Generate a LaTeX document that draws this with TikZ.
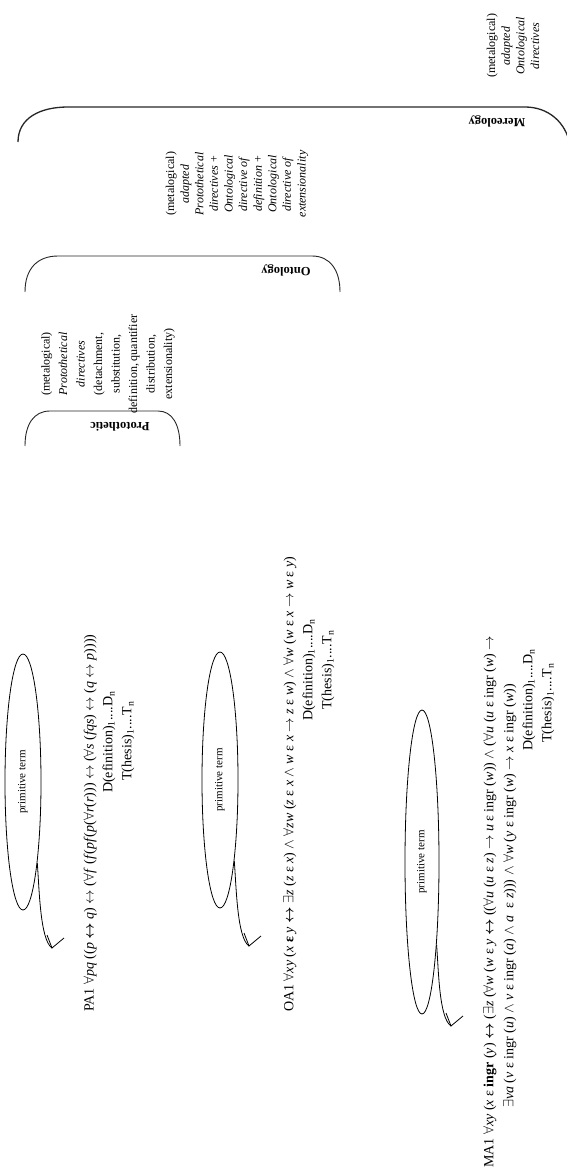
\documentclass[tikz,border=0pt]{standalone}
\usepackage{amsmath}
\usepackage{fontspec}
\setmainfont{Liberation Serif}
\usetikzlibrary{shapes.geometric,calc}
\newcommand{\myA}{\ensuremath{\forall}}
\newcommand{\myE}{\ensuremath{\exists}}
\newcommand{\myI}{\ensuremath{\leftrightarrow}}
\newcommand{\myBI}{\ensuremath{\boldsymbol{\leftrightarrow}}}
\newcommand{\myR}{\ensuremath{\rightarrow}}
\newcommand{\myW}{\ensuremath{\wedge}}
\newcommand{\vv}[1]{\textit{#1}}
\tikzset{
  formula/.style={rotate=90, inner sep=0pt, font=\fontsize{14}{19}\selectfont},
  dtline/.style={rotate=90, inner sep=0pt, font=\fontsize{14}{19}\selectfont},
  desc/.style={rotate=90, inner sep=0pt, align=center, font=\fontsize{12}{17.5}\selectfont},
  descb/.style={rotate=90, inner sep=0pt, align=center, font=\fontsize{12}{14.6}\selectfont},
  brlabel/.style={rotate=180, inner sep=0pt, font=\fontsize{12.5}{14}\selectfont\bfseries},
  prim/.style={rotate=90, inner sep=0pt, font=\fontsize{11}{13}\selectfont},
  bracket/.style={draw=black!85, line width=0.9pt},
  ell/.style={draw, ellipse, line width=0.8pt, inner sep=0pt},
  tail/.style={draw, line width=0.8pt},
}
\begin{document}
\begin{tikzpicture}[x=1pt,y=-1pt]
\useasboundingbox (0,0) rectangle (566,1175);

% brackets
\draw[bracket, line width=1.3pt] (18,142) .. controls (18,118) and (40,107) .. (68,107) -- (525,107) .. controls (548,107) and (566,122) .. (570,145);
\node[brlabel] (mer) at (497,121) {Mereology};
\draw[bracket] (25,292) .. controls (25,268) and (38,256) .. (58,256) -- (312,256) .. controls (330,256) and (340,270) .. (340,292);
\node[brlabel] (ont) at (286,270) {Ontology};
\draw[bracket] (25,446) .. controls (25,424) and (34,411) .. (50,411) -- (158,411) .. controls (172,411) and (180,424) .. (180,446);
\node[brlabel] (pro) at (120,427) {Protothetic};

% description blocks
\node[desc] (d1) at (108,364) {(metalogical)\\ \textit{Protothetical}\\ \textit{directives}\\ (detachment,\\ substitution,\\ definition, quantifier\\ distribution,\\ extensionality)};
\node[descb] (d2) at (237,184) {(metalogical)\\ \textit{adapted}\\ \textit{Protothetical}\\ \textit{directives} +\\ \textit{Ontological}\\ \textit{directive of}\\ \textit{definition} +\\ \textit{Ontological}\\ \textit{directive of}\\ \textit{extensionality}};
\node[descb] (d3) at (513,46) {(metalogical)\\ \textit{adapted}\\ \textit{Ontological}\\ \textit{directives}};

% ellipses
\node[ell, minimum width=36pt, minimum height=256pt] (e1) at (23,782) {};
\node[prim] (p1) at (e1.center) {primitive term};
\node[ell, minimum width=36pt, minimum height=256pt] (e2) at (220,780) {};
\node[prim] (p2) at (e2.center) {primitive term};
\node[ell, minimum width=34pt, minimum height=304pt] (e3) at (422,862) {};
\node[prim] (p3) at (e3.center) {primitive term};

% tails
\foreach \e/\tx/\ty in {e1/52/948, e2/249/946, e3/451/1026} {
  \coordinate (\e tip) at (\tx,\ty);
  \draw[tail] (\e.-80) .. controls ($(\e.-80)+(2,25)$) and ($(\e tip)+(-12,-8)$) .. (\e tip);
  \draw[tail] ($(\e tip)+(-5,-13)$) -- (\e tip) -- ($(\e tip)+(12,-10)$);
}

% formulas
\node[formula, anchor=west] (pa1) at (90,1012) {PA1 \myA\vv{pq} ((\vv{p} \myBI\ \vv{q}) \myI\ (\myA\vv{f} (\vv{f}(\vv{pf}(\vv{p}(\myA\vv{r}(\vv{r}))) \myI\ (\myA\vv{s} (\vv{fqs}) \myI\ (\vv{q} \myI\ \vv{p}))))};
\node[dtline] (pad) at (109,742) {D(efinition)\textsubscript{1}....D\textsubscript{n}};
\node[dtline] (pat) at (128,741) {T(hesis)\textsubscript{1}....T\textsubscript{n}};

\node[formula, anchor=west] (oa1) at (290,1012) {OA1 \myA\vv{xy} (\vv{x} \textbf{ε} \vv{y} \myBI\ \myE\vv{z} (\vv{z} ε \vv{x}) \myW\ \myA\vv{zw} (\vv{z} ε \vv{x} \myW\ \vv{w} ε \vv{x} \myR\ \vv{z} ε \vv{w}) \myW\ \myA\vv{w} (\vv{w} ε \vv{x} \myR\ \vv{w} ε \vv{y})};
\node[dtline] (oad) at (309,670) {D(efinition)\textsubscript{1}....D\textsubscript{n}};
\node[dtline] (oat) at (328,670) {T(hesis)\textsubscript{1}....T\textsubscript{n}};

\node[formula, anchor=west] (ma1) at (490,1168) {MA1 \myA\vv{xy} (\vv{x} ε \textbf{ingr} (\vv{y}) \myBI\ (\myE\vv{z} (\myA\vv{w} (\vv{w} ε \vv{y} \myBI\ ((\myA\vv{u} (\vv{u} ε \vv{z}) \myR\ \vv{u} ε ingr (\vv{w})) \myW\ (\myA\vv{u} (\vv{u} ε ingr (\vv{w}) \myR};
\node[formula, anchor=west] (ma2) at (510,1108) {\myE\vv{va} (\vv{v} ε ingr (\vv{u}) \myW\ \vv{v} ε ingr (\vv{a}) \myW\ \vv{a}\ \ ε \vv{z}))) \myW\ \myA\vv{w} (\vv{y} ε ingr (\vv{w}) \myR\ \vv{x} ε ingr (\vv{w}))};
\node[dtline] (mad) at (529,700) {D(efinition)\textsubscript{1}....D\textsubscript{n}};
\node[dtline] (mat) at (548,703) {T(hesis)\textsubscript{1}....T\textsubscript{n}};
\end{tikzpicture}
\end{document}
